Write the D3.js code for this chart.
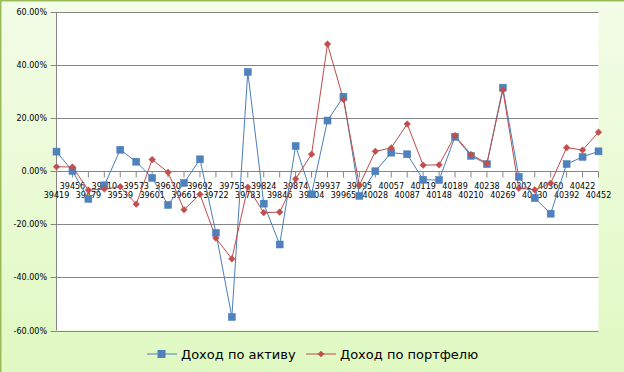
<!DOCTYPE html>
<html><head><meta charset="utf-8">
<script src="https://cdn.jsdelivr.net/npm/d3@7"></script>
<style>body{margin:0;}svg{display:block;}</style>
</head><body>
<script>
const categories = ["39419","39456","39479","39510","39539","39573","39601","39630","39661","39692","39722","39753","39783","39824","39846","39874","39904","39937","39965","39995","40028","40057","40087","40119","40148","40189","40210","40238","40269","40302","40330","40360","40392","40422","40452"];
const assetReturn = [7.4,0.1,-10.4,-5.3,8.1,3.6,-2.5,-12.7,-4.4,4.5,-23.2,-54.9,37.4,-12.2,-27.6,9.5,-8.7,19.1,28.1,-9.3,0.0,7.0,6.4,-3.2,-3.3,13.0,5.8,2.7,31.5,-2.1,-10.1,-16.0,2.7,5.4,7.5];
const portfolioReturn = [1.7,1.6,-7.1,-6.7,-5.8,-12.4,4.4,-0.4,-14.5,-8.7,-25.2,-33.0,-6.0,-15.6,-15.4,-2.9,6.4,47.9,27.0,-5.3,7.5,8.8,17.8,2.3,2.4,13.4,6.3,3.0,30.6,-6.4,-7.0,-4.5,8.9,8.0,14.7];
const yTicks = [-60,-40,-20,0,20,40,60];
const seriesNames = ["Доход по активу","Доход по портфелю"];

const W=624,H=372;
const svg=d3.select("body").append("svg").attr("width",W).attr("height",H);
const defs=svg.append("defs");
const g1=defs.append("linearGradient").attr("id","bg").attr("x1",0).attr("y1",0).attr("x2",0).attr("y2",1);
g1.append("stop").attr("offset","0%").attr("stop-color","#f3fce7");
g1.append("stop").attr("offset","100%").attr("stop-color","#e0f9c2");
svg.append("rect").attr("width",W).attr("height",H).attr("fill","url(#bg)");
svg.append("line").attr("x1",0.75).attr("x2",0.75).attr("y1",0).attr("y2",H).attr("stroke","#9bbb59").attr("stroke-width",1.5);
svg.append("line").attr("x1",0).attr("x2",W).attr("y1",0.75).attr("y2",0.75).attr("stroke","#9bbb59").attr("stroke-width",1.5);

const L=56.5,R=598.5,T=12,B=330.5;
const x=d3.scalePoint().domain(categories).range([L,R]);
const y=d3.scaleLinear().domain([-60,60]).range([B,T]);

svg.append("rect").attr("x",L).attr("y",T).attr("width",R-L).attr("height",B-T).attr("fill","#fff");

const grid=svg.append("g");
grid.selectAll("line").data(yTicks).join("line")
  .attr("x1",L-6).attr("x2",R).attr("y1",d=>Math.round(y(d))+0.5).attr("y2",d=>Math.round(y(d))+0.5)
  .attr("stroke","#868686").attr("stroke-width",1);
svg.append("line").attr("x1",L).attr("x2",L).attr("y1",T).attr("y2",B).attr("stroke","#868686");

const fmt=d=>d.toFixed(2)+"%";
svg.append("g").selectAll("text").data(yTicks).join("text")
  .attr("x",47).attr("y",d=>y(d)+3).attr("text-anchor","end")
  .attr("font-family","DejaVu Sans").attr("font-size",8).attr("fill","#000").text(fmt);

const y0=Math.round(y(0))+0.5;
svg.append("g").selectAll("line").data(categories).join("line")
  .attr("x1",d=>x(d)).attr("x2",d=>x(d)).attr("y1",y0).attr("y2",y0+6)
  .attr("stroke","#868686");
svg.append("g").selectAll("text").data(categories).join("text")
  .attr("x",d=>x(d)).attr("y",(d,i)=>i%2? y0+17 : y0+26).attr("text-anchor","middle")
  .attr("font-family","DejaVu Sans").attr("font-size",8).attr("fill","#000").text(d=>d);

const colors=["#4a7ebb","#be4b48"];
const line=d3.line().x((d,i)=>x(categories[i])).y(d=>y(d));
svg.append("path").datum(assetReturn).attr("d",line).attr("fill","none").attr("stroke",colors[0]).attr("stroke-width",1);
svg.append("path").datum(portfolioReturn).attr("d",line).attr("fill","none").attr("stroke",colors[1]).attr("stroke-width",1);

svg.append("g").selectAll("rect").data(assetReturn).join("rect")
  .attr("x",(d,i)=>x(categories[i])-3.5).attr("y",d=>y(d)-3.5).attr("width",7).attr("height",7)
  .attr("fill","#4f81bd").attr("stroke","#4a7ebb").attr("stroke-width",0.5);
const dia=d3.symbol().type(d3.symbolDiamond2).size(28);
svg.append("g").selectAll("path").data(portfolioReturn).join("path")
  .attr("transform",(d,i)=>`translate(${x(categories[i])},${y(d)})`).attr("d",dia)
  .attr("fill","#c0504d").attr("stroke","#be4b48").attr("stroke-width",0.5);

// legend
const ly=354;
svg.append("line").attr("x1",147).attr("x2",177).attr("y1",ly).attr("y2",ly).attr("stroke",colors[0]);
svg.append("rect").attr("x",157.5).attr("y",ly-4).attr("width",8).attr("height",8).attr("fill","#4f81bd");
svg.append("text").attr("x",181).attr("y",ly+4.5).attr("font-family","DejaVu Sans").attr("font-size",13).attr("fill","#000").text(seriesNames[0]);
svg.append("line").attr("x1",306).attr("x2",336).attr("y1",ly).attr("y2",ly).attr("stroke",colors[1]);
svg.append("path").attr("transform",`translate(321,${ly})`).attr("d",dia).attr("fill","#c0504d");
svg.append("text").attr("x",340).attr("y",ly+4.5).attr("font-family","DejaVu Sans").attr("font-size",13).attr("fill","#000").text(seriesNames[1]);
</script>
</body></html>
